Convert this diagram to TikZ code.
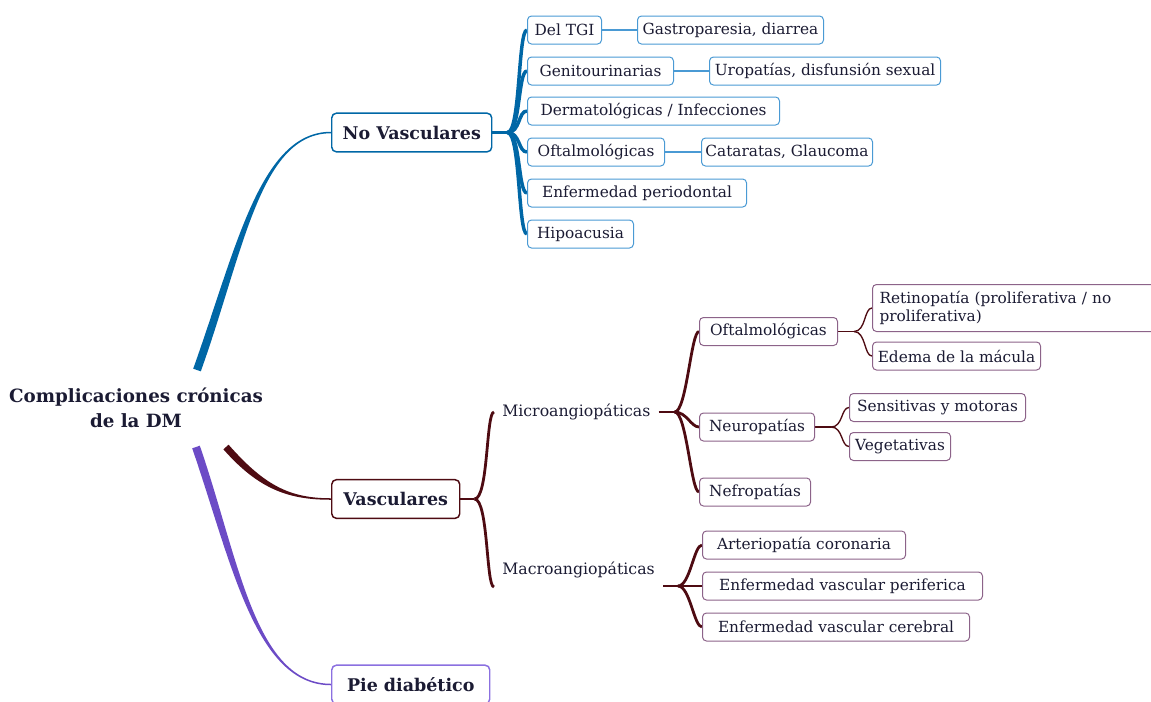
\documentclass[tikz,border=0pt]{standalone}
\usepackage{fontspec}
\setmainfont{DejaVu Serif}
\usetikzlibrary{calc,backgrounds}
\definecolor{ctext}{HTML}{1B1B33}
\definecolor{cblue}{HTML}{0067A6}
\definecolor{clblue}{HTML}{4A9AD4}
\definecolor{cred}{HTML}{4E0B12}
\definecolor{cmauve}{HTML}{8C6389}
\definecolor{cpurple}{HTML}{6C4BC6}
\definecolor{clpurple}{HTML}{8B70E0}
\begin{document}
\begin{tikzpicture}[x=0.75pt,y=-0.75pt,
  root/.style={text=ctext, align=center, font=\fontsize{13.7}{18.8}\selectfont\bfseries, inner sep=0pt},
  lone/.style={draw, rounded corners=3.5pt, line width=1.1pt, fill=white, text=ctext,
    font=\fontsize{13.1}{15}\selectfont\bfseries, minimum height=29pt, anchor=west, inner xsep=0pt},
  ltwo/.style={draw, rounded corners=3pt, line width=0.75pt, fill=white, text=ctext,
    font=\fontsize{11.5}{14}\selectfont, minimum height=21pt, anchor=west, inner xsep=2.5pt},
  bltwo/.style={ltwo, draw=clblue},
  rltwo/.style={ltwo, draw=cmauve},
  plain/.style={text=ctext, font=\fontsize{11.8}{14.2}\selectfont, anchor=west, inner xsep=6pt},
  bfan/.style={draw=cblue, line width=2.6pt},
  bthin/.style={draw=clblue, line width=0.8pt},
  rfan/.style={draw=cred, line width=2.1pt},
  rthin/.style={draw=cred, line width=1pt}
]
\useasboundingbox (0,0) rectangle (1151,701);

% root
\node[root] (root) at (136,408) {Complicaciones crónicas\\de la DM};

% level 1
\node[lone, draw=cblue, minimum width=120pt] (nv) at (331,132.5) {No Vasculares};
\node[lone, draw=cred, minimum width=96pt] (vas) at (331,499) {Vasculares};
\node[lone, draw=clpurple, minimum width=118.5pt] (pie) at (331,684.5) {Pie diabético};

% No vasculares children
\node[bltwo, minimum width=55.5pt] (tgi) at (527,30) {Del TGI};
\node[bltwo, minimum width=139.5pt] (gas) at (637,30) {Gastroparesia, diarrea};
\node[bltwo, minimum width=109.5pt] (gen) at (527,71) {Genitourinarias};
\node[bltwo, minimum width=173.3pt] (uro) at (709,71) {Uropatías, disfunsión sexual};
\node[bltwo, minimum width=189pt] (der) at (527,111) {Dermatológicas / Infecciones};
\node[bltwo, minimum width=102.8pt] (oft) at (527,152) {Oftalmológicas};
\node[bltwo, minimum width=128.3pt] (cat) at (701,152) {Cataratas, Glaucoma};
\node[bltwo, minimum width=164.3pt] (per) at (527,193) {Enfermedad periodontal};
\node[bltwo, minimum width=79.5pt] (hip) at (527,234) {Hipoacusia};

% Vasculares children
\node[plain] (mic) at (494,412) {Microangiopáticas};
\node[plain] (mac) at (494,570) {Macroangiopáticas};

\node[rltwo, minimum width=103.5pt] (oft2) at (699,331.5) {Oftalmológicas};
\node[rltwo, minimum width=86.3pt] (neu) at (699,427) {Neuropatías};
\node[rltwo, minimum width=83.3pt] (nef) at (699,492) {Nefropatías};
\node[rltwo, anchor=north west, minimum width=225pt, minimum height=35.25pt, text width=214.5pt, align=left, inner xsep=5.25pt] (ret) at (872,284) {Retinopatía (proliferativa / no\\proliferativa)};
\node[rltwo, minimum width=126pt] (ede) at (872,356) {Edema de la mácula};
\node[rltwo, minimum width=132pt] (sen) at (849,407.5) {Sensitivas y motoras};
\node[rltwo, minimum width=75.8pt] (veg) at (849,446.5) {Vegetativas};
\node[rltwo, minimum width=152.3pt] (art) at (702,545) {Arteriopatía coronaria};
\node[rltwo, minimum width=210pt] (evp) at (702,586) {Enfermedad vascular periferica};
\node[rltwo, minimum width=200.3pt] (evc) at (702,627) {Enfermedad vascular cerebral};

\begin{pgfonlayer}{background}
% main tapered branches
\coordinate (bs) at (197,370);
\coordinate (rs) at (226,447);
\coordinate (ps) at (196,447);
\fill[cblue] ($(bs)+(3.8,1.3)$) .. controls ($(bs)+(46.8,-118.7)$) and ($(nv.west)+(-71,0.75)$) .. ($(nv.west)+(0,0.75)$)
  -- ($(nv.west)+(0,-0.75)$) .. controls ($(nv.west)+(-71,-0.75)$) and ($(bs)+(39.2,-121.3)$) .. ($(bs)+(-3.8,-1.3)$) -- cycle;
\fill[cred] ($(rs)+(-2.6,2.3)$) .. controls ($(rs)+(33.4,43.3)$) and ($(vas.west)+(-41,0.75)$) .. ($(vas.west)+(0,0.75)$)
  -- ($(vas.west)+(0,-0.75)$) .. controls ($(vas.west)+(-41,-0.75)$) and ($(rs)+(38.6,38.7)$) .. ($(rs)+(2.6,-2.3)$) -- cycle;
\fill[cpurple] ($(ps)+(-3.8,1.3)$) .. controls ($(ps)+(35.2,114.3)$) and ($(pie.west)+(-76,0.75)$) .. ($(pie.west)+(0,0.75)$)
  -- ($(pie.west)+(0,-0.75)$) .. controls ($(pie.west)+(-76,-0.75)$) and ($(ps)+(42.8,111.7)$) .. ($(ps)+(3.8,-1.3)$) -- cycle;

% No vasculares fan
\draw[bfan] (nv.east) -- ++(15,0) coordinate (nvf);
\foreach \c in {tgi,gen,der,oft,per,hip}
  \draw[bfan] (nvf) .. controls +(13,0) and +(-9,0) .. (\c.west);
\draw[bthin] (tgi.east) -- (gas.west);
\draw[bthin] (gen.east) -- (uro.west);
\draw[bthin] (oft.east) -- (cat.west);

% Vasculares fan
\draw[rfan] (vas.east) -- ++(14,0) coordinate (vf);
\coordinate (maca) at ($(mac.west)+(0,17)$);
\draw[rfan] (vf) .. controls +(14,0) and +(-8,0) .. (mic.west);
\draw[rfan] (vf) .. controls +(14,0) and +(-8,0) .. (maca);

% Micro fan
\draw[rfan] (mic.east) -- ++(16,0) coordinate (mif);
\foreach \c in {oft2,neu,nef}
  \draw[rfan] (mif) .. controls +(12,0) and +(-8,0) .. (\c.west);

% Macro fan
\coordinate (macb) at ($(mac.east)+(0,16)$);
\draw[rfan] (macb) -- ++(15,0) coordinate (maf);
\foreach \c in {art,evp,evc}
  \draw[rfan] (maf) .. controls +(12,0) and +(-8,0) .. (\c.west);

% Oftalmologicas fan
\draw[rthin] (oft2.east) -- ++(16,0) coordinate (of);
\draw[rthin] (of) .. controls +(12,0) and +(-8,0) .. (ret.west);
\draw[rthin] (of) .. controls +(12,0) and +(-8,0) .. (ede.west);

% Neuropatias fan
\draw[rthin] (neu.east) -- ++(16,0) coordinate (nf);
\draw[rthin] (nf) .. controls +(12,0) and +(-8,0) .. (sen.west);
\draw[rthin] (nf) .. controls +(12,0) and +(-8,0) .. (veg.west);
\end{pgfonlayer}
\end{tikzpicture}
\end{document}
